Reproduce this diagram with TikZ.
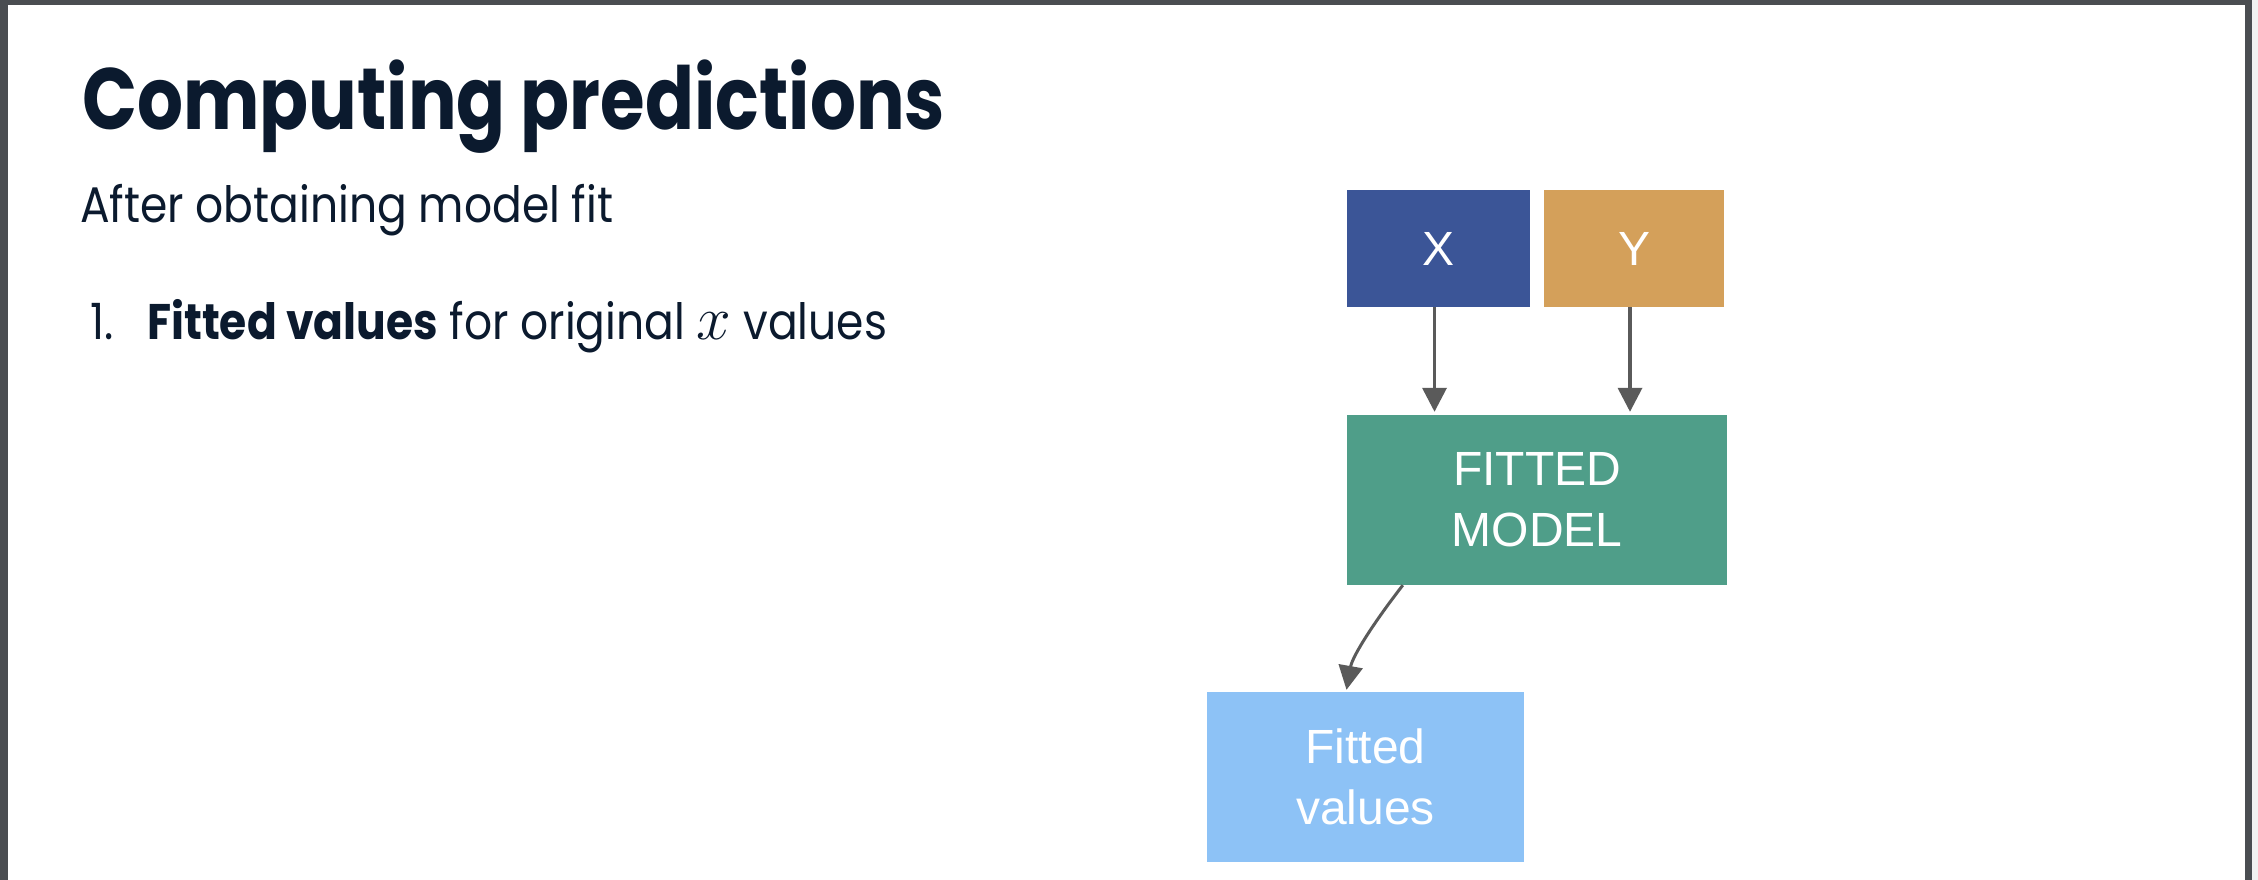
\documentclass[tikz,border=0pt]{standalone}
\usepackage{fontspec}
\setmainfont{Poppins}[FakeStretch=0.88]
\newfontfamily\titlefont{Poppins}[FakeStretch=0.83]
\newfontfamily\boxfont{Liberation Sans}
\usetikzlibrary{arrows.meta}
\definecolor{navy}{HTML}{0B1A2E}
\definecolor{framegray}{HTML}{4A4D51}
\definecolor{xblue}{HTML}{3B5597}
\definecolor{ygold}{HTML}{D4A05A}
\definecolor{modelgreen}{HTML}{4F9E89}
\definecolor{fitblue}{HTML}{8DC2F6}
\definecolor{arrowgray}{HTML}{5A5A5A}
\newcommand{\bigmathx}{\scalebox{2.5}{$x$}}
\tikzset{
  box/.style={rectangle,inner sep=0pt,text=white,align=center,font=\boxfont\fontsize{48}{61}\selectfont},
  flow/.style={draw=arrowgray,line width=3.5pt,-{Triangle[width=24pt,length=24pt]}},
  slidetext/.style={anchor=base west,inner sep=0pt,text=navy},
}
\begin{document}
\begin{tikzpicture}[x=1pt,y=-1pt]
    \useasboundingbox (0,0) rectangle (2258,880);
    %% Frame
    \fill[white] (0,0) rectangle (2258,880);
    \fill[framegray] (0,0) rectangle (8,880);
    \fill[framegray] (0,0) rectangle (2252,5);
    \fill[framegray] (2245,0) rectangle (2252,880);
    \fill[gray!10] (2252,0) rectangle (2258,880);
    %% Text
    \node[slidetext,font=\titlefont\bfseries\fontsize{87}{100}\selectfont] (title) at (82,129) {Computing predictions};
    \node[slidetext,font=\fontsize{50}{60}\selectfont] (sub) at (80,222) {After obtaining model fit};
    \node[slidetext,font=\fontsize{50}{60}\selectfont] (item) at (90,339) {\makebox[57pt][l]{1.}\textbf{Fitted values} for original \bigmathx{} values};
    %% Boxes
    \node[box,fill=xblue,minimum width=183pt,minimum height=117pt] (X) at (1438.5,248.5) {X};
    \node[box,fill=ygold,minimum width=180pt,minimum height=117pt] (Y) at (1634,248.5) {Y};
    \node[box,fill=modelgreen,minimum width=380pt,minimum height=170pt] (model) at (1537,500) {FITTED\\MODEL};
    \node[box,fill=fitblue,minimum width=317pt,minimum height=170pt] (fitted) at (1365.5,777) {Fitted\\values};
    %% Arrows
    \draw[flow] ([xshift=-4pt]X.south) -- ([xshift=-4pt,yshift=3pt]X.south |- model.north);
    \draw[flow] ([xshift=-4pt]Y.south) -- ([xshift=-4pt,yshift=3pt]Y.south |- model.north);
    \draw[flow,line width=3pt] ([xshift=56pt]model.south west) .. controls +(-28,36) and +(6,-34) .. ([xshift=-19pt,yshift=2pt]fitted.north);
\end{tikzpicture}
\end{document}
